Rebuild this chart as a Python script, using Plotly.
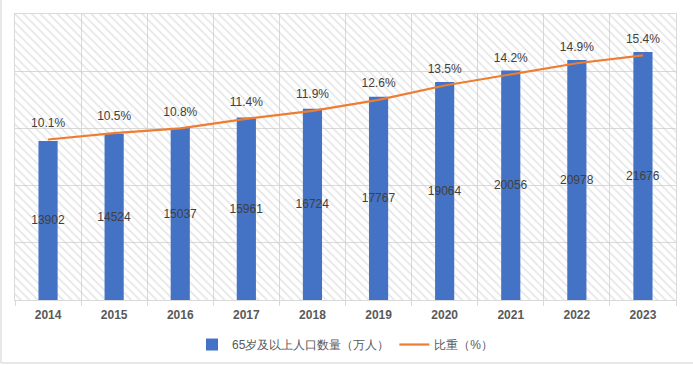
import plotly.graph_objects as go

years = ["2014", "2015", "2016", "2017", "2018", "2019", "2020", "2021", "2022", "2023"]
population = [13902, 14524, 15037, 15961, 16724, 17767, 19064, 20056, 20978, 21676]
share = [10.1, 10.5, 10.8, 11.4, 11.9, 12.6, 13.5, 14.2, 14.9, 15.4]
bar_name = "65岁及以上人口数量（万人）"
line_name = "比重（%）"

FONT = "Liberation Sans, Arial, sans-serif"
GRID = "#D9D9D9"
TXT = "#404040"

fig = go.Figure()

# decorative hatched plot background on hidden base axes
fig.add_trace(go.Bar(
    x=[0.5], y=[1], width=[1], xaxis="x", yaxis="y",
    marker=dict(color="rgba(0,0,0,0)", line=dict(width=0),
                pattern=dict(shape="\\", fgcolor="#CDCDCD", bgcolor="rgba(0,0,0,0)",
                             size=6, solidity=0.28)),
    showlegend=False, hoverinfo="skip",
))

fig.add_trace(go.Bar(
    x=years, y=population, name=bar_name, xaxis="x2", yaxis="y2",
    marker=dict(color="#4472C4", line=dict(width=0)), width=0.29,
    text=[str(v) for v in population], textposition="inside",
    insidetextanchor="middle", constraintext="none", textangle=0,
    textfont=dict(color=TXT, size=12, family=FONT),
))

fig.add_trace(go.Scatter(
    x=years, y=share, name=line_name, xaxis="x2", yaxis="y3",
    mode="lines+markers+text", line=dict(color="#ED7D31", width=2.2),
    marker=dict(size=14, color="rgba(0,0,0,0)"),
    text=[f"{v}%" for v in share], textposition="top center",
    textfont=dict(color=TXT, size=12, family=FONT),
))

fig.update_layout(
    width=693, height=365,
    margin=dict(l=15, r=17, t=14, b=65, autoexpand=False),
    paper_bgcolor="white", plot_bgcolor="white",
    font=dict(family=FONT, color="#595959"),
    xaxis=dict(range=[0, 1], visible=False, fixedrange=True),
    yaxis=dict(range=[0, 1], visible=False, fixedrange=True),
    xaxis2=dict(overlaying="x", type="category", tickson="boundaries",
                range=[-0.5, len(years) - 0.5],
                showgrid=True, gridcolor=GRID, gridwidth=1,
                showline=True, linecolor=GRID, linewidth=1,
                ticks="outside", ticklen=5, tickcolor=GRID, ticklabelstandoff=4,
                tickfont=dict(size=12, color="#595959", family="Liberation Sans, Arial",
                              weight="bold"),
                mirror=True),
    yaxis2=dict(overlaying="y", range=[0, 25000], dtick=5000,
                showgrid=True, gridcolor=GRID, showticklabels=False,
                zeroline=False, showline=True, linecolor=GRID, mirror=True),
    yaxis3=dict(overlaying="y", side="right", range=[0, 18],
                showgrid=False, showticklabels=False, zeroline=False),
    bargap=0.71,
    legend=dict(orientation="h", x=0.5, xanchor="center", y=-0.105, yanchor="top",
                font=dict(size=12, color="#595959", family=FONT),
                itemwidth=30, traceorder="normal"),
    shapes=[
        dict(type="line", xref="paper", yref="paper", x0=-0.0212, x1=-0.0212, y0=-0.22, y1=1.05,
             line=dict(color="#E0E0E0", width=1.5)),
        dict(type="line", xref="paper", yref="paper", x0=-0.0212, x1=1.03, y0=-0.22, y1=-0.22,
             line=dict(color="#E0E0E0", width=1.5)),
    ],
)

fig.write_html("out.html", config={"displayModeBar": False},
               post_script="document.body.style.margin='0';document.body.style.overflow='hidden';")
